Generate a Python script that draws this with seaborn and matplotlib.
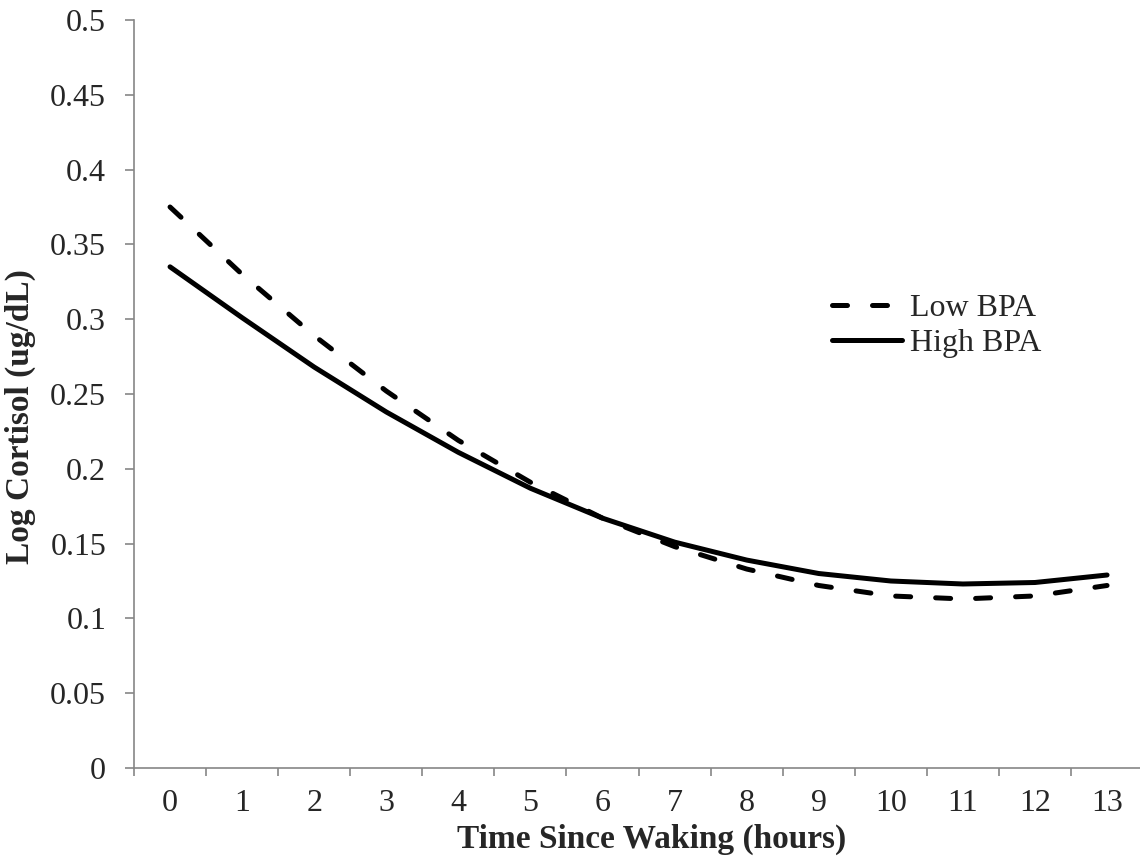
import numpy as np
import matplotlib.pyplot as plt
import seaborn as sns

# values at each whole hour
hours = list(range(14))
low_bpa = [0.375, 0.330, 0.289, 0.252, 0.219, 0.191, 0.167, 0.148, 0.133, 0.122, 0.115, 0.113, 0.115, 0.122]
high_bpa = [0.335, 0.301, 0.268, 0.238, 0.211, 0.187, 0.167, 0.151, 0.139, 0.130, 0.125, 0.123, 0.124, 0.129]
ytick_vals = [0, 0.05, 0.1, 0.15, 0.2, 0.25, 0.3, 0.35, 0.4, 0.45, 0.5]
ytick_labels = ["0", "0.05", "0.1", "0.15", "0.2", "0.25", "0.3", "0.35", "0.4", "0.45", "0.5"]

sns.set_style("white")
plt.rcParams['font.family'] = ['Liberation Serif', 'DejaVu Serif']
gray = "#868686"

fig = plt.figure(figsize=(11.4, 8.6), dpi=100)
ax = fig.add_axes([134/1140, 92/860, 1006/1140, 748/860])

sns.lineplot(x=hours, y=low_bpa, ax=ax, color="black", lw=3.6,
             linestyle=(0, (3, 5)), dash_capstyle="round", label="Low BPA")
sns.lineplot(x=hours, y=high_bpa, ax=ax, color="black", lw=3.6,
             solid_capstyle="round", label="High BPA")

ax.set_xlim(-0.5, 13.457)
ax.set_ylim(0, 0.5)
ax.set_yticks(ytick_vals)
ax.set_yticklabels(ytick_labels)
ax.set_xticks(hours)
ax.set_xticklabels([str(h) for h in hours])
ax.set_xticks(np.arange(-0.5, 13, 1), minor=True)

for s in ["top", "right"]:
    ax.spines[s].set_visible(False)
for s in ["left", "bottom"]:
    ax.spines[s].set_color(gray)
    ax.spines[s].set_linewidth(1.2)

ax.tick_params(axis="y", direction="out", length=6.5, width=1.2, color=gray,
               labelsize=23, pad=13.5, left=True)
ax.tick_params(axis="x", which="major", length=0, labelsize=23, pad=15)
ax.tick_params(axis="x", which="minor", direction="out", length=6, width=1.2,
               color=gray, bottom=True)

ax.set_xlabel("Time Since Waking (hours)", fontsize=24, fontweight="bold")
ax.set_ylabel("Log Cortisol (ug/dL)", fontsize=24, fontweight="bold")
ax.xaxis.set_label_coords(0.515, -0.075)
ax.yaxis.set_label_coords(-0.097, 0.47)

leg = ax.legend(loc="upper left", bbox_to_anchor=(832/1140, 1 - 294/860),
                bbox_transform=fig.transFigure, frameon=False, fontsize=23,
                handlelength=2.2, handletextpad=0.25, labelspacing=0.17,
                borderpad=0, borderaxespad=0)

fig.savefig("out.png", dpi=100, facecolor="white")
